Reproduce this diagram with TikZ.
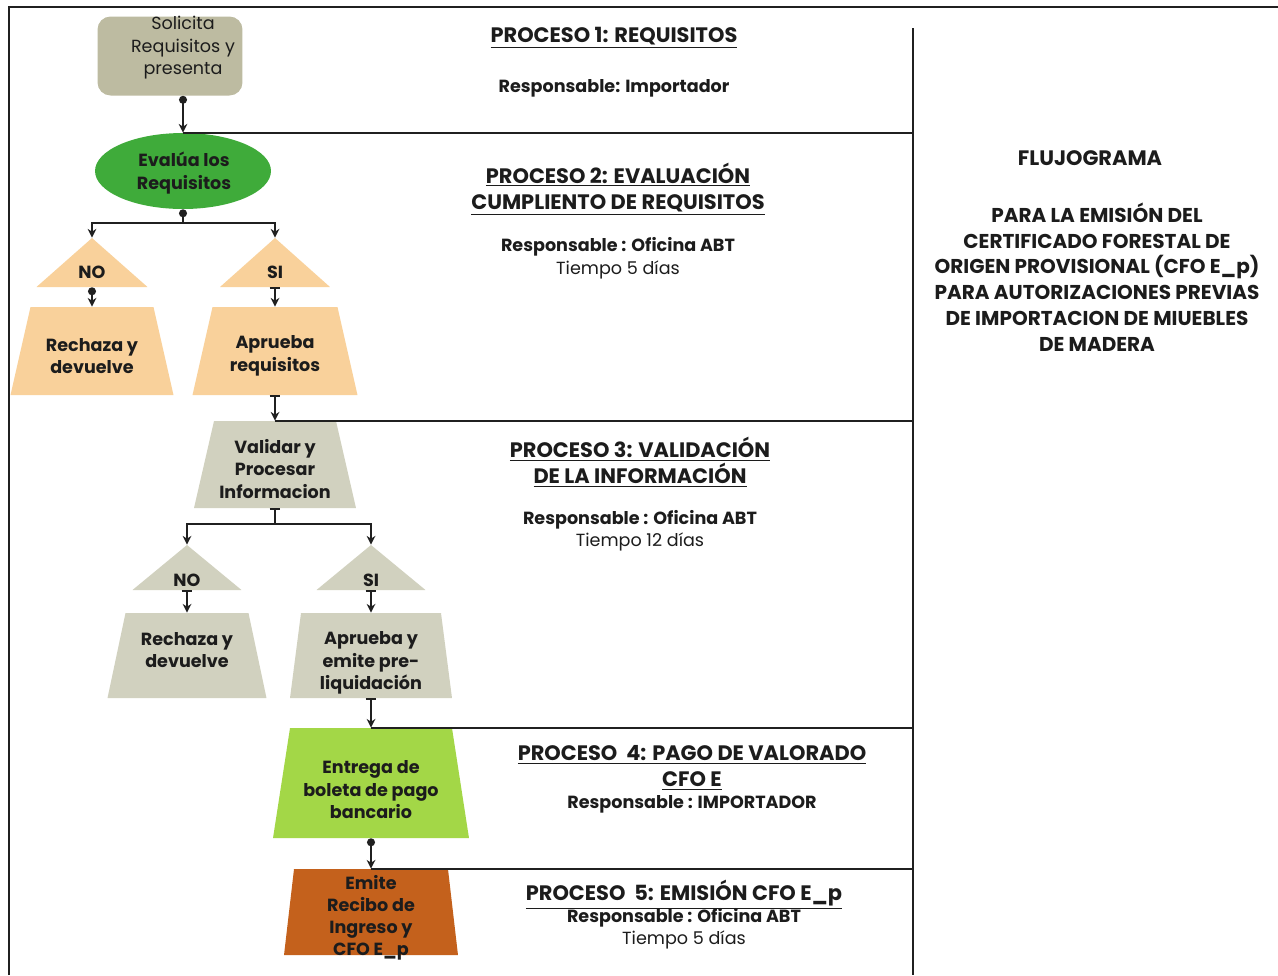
\documentclass[tikz,border=0pt]{standalone}
\usepackage{fontspec}
\setmainfont{Poppins}
\usetikzlibrary{arrows.meta,shapes.geometric}
\definecolor{cSol}{HTML}{BDBBA1}
\definecolor{cEval}{HTML}{3FAB3A}
\definecolor{cPeach}{HTML}{F9D19B}
\definecolor{cGray}{HTML}{D1D1BF}
\definecolor{cLime}{HTML}{A3D747}
\definecolor{cRust}{HTML}{C4611C}
\definecolor{txt}{HTML}{1C1C1C}
\definecolor{lin}{HTML}{202020}
\begin{document}
\begin{tikzpicture}[x=0.02cm,y=-0.02cm,
  every node/.style={font=\fontsize{10}{12.8}\selectfont, text=txt, align=center, inner sep=0pt},
  bt/.style={font=\fontsize{10}{12.8}\selectfont\bfseries},
  ht/.style={font=\fontsize{11.9}{14.8}\selectfont\bfseries},
  conn/.style={line width=1.2pt, draw=lin},
  dotar/.style={conn, {Circle[length=4.5pt]}-{Stealth[length=5pt,width=5pt]}},
  barar/.style={conn, {Bar[width=6pt]}-{Stealth[length=5pt,width=5pt]}},
  dotst/.style={conn, {Circle[length=4.5pt]}-},
  barst/.style={conn, {Bar[width=6pt]}-},
  toar/.style={conn, -{Stealth[length=5pt,width=5pt]}},
  sep/.style={line width=1.1pt, draw=lin},
  trapbox/.style n args={4}{minimum width=#1, minimum height=#2, path picture={\fill[#4] ([xshift=#3]path picture bounding box.north west) -- ([xshift=-#3]path picture bounding box.north east) -- (path picture bounding box.south east) -- (path picture bounding box.south west) -- cycle;}},
  tribox/.style n args={3}{minimum width=#1, minimum height=#2, path picture={\fill[#3] (path picture bounding box.north) -- (path picture bounding box.south east) -- (path picture bounding box.south west) -- cycle;}}
]
\useasboundingbox (0,0) rectangle (1278,975);
\fill[white] (0,0) rectangle (1278,975);

% shapes
\node[rounded corners=0.26cm, fill=cSol, minimum width=2.9cm, minimum height=1.58cm] (s1) at (170,56) {};
\node (s1t) at (183,48) {Solicita\\Requisitos y\\presenta};
\node[ellipse, fill=cEval, minimum width=3.52cm, minimum height=1.52cm] (ev) at (183,171) {};
\node[bt] (evt) at (184,173) {Evalúa los\\Requisitos};

\node[tribox={2.22cm}{0.98cm}{cPeach}] (no1) at (92,262.5) {};
\node[bt] (no1t) at (92,272) {NO};
\node[tribox={2.2cm}{0.98cm}{cPeach}] (si1) at (275,262.5) {};
\node[bt] (si1t) at (275,272) {SI};

\node[trapbox={3.26cm}{1.76cm}{0.4cm}{cPeach}] (r1) at (92,351) {};
\node[bt] (r1t) at (92,356) {Rechaza y\\devuelve};
\node[trapbox={3.3cm}{1.76cm}{0.4cm}{cPeach}] (a1) at (275,351) {};
\node[bt] (a1t) at (275,356) {Aprueba\\requisitos};

\node[trapbox={3.24cm}{1.74cm}{0.4cm}{cGray}] (v1) at (275,464.5) {};
\node[bt] (v1t) at (275,469) {Validar y\\Procesar\\Informacion};

\node[tribox={2.18cm}{0.9cm}{cGray}] (no2) at (187,567.5) {};
\node[bt] (no2t) at (187,580) {NO};
\node[tribox={2.18cm}{0.9cm}{cGray}] (si2) at (371,567.5) {};
\node[bt] (si2t) at (371,580) {SI};

\node[trapbox={3.18cm}{1.7cm}{0.36cm}{cGray}] (r2) at (187,655.5) {};
\node[bt] (r2t) at (187,650) {Rechaza y\\devuelve};
\node[trapbox={3.24cm}{1.7cm}{0.22cm}{cGray}] (a2) at (371,655.5) {};
\node[bt] (a2t) at (371,663) {Aprueba y\\emite pre-\\liquidación};

\node[trapbox={3.92cm}{2.2cm}{0.34cm}{cLime}] (p4) at (371,783) {};
\node[bt] (p4t) at (371,790) {Entrega de\\boleta de pago\\bancario};
\node[trapbox={3.48cm}{1.72cm}{0.2cm}{cRust}] (p5) at (371,912) {};
\node[bt, font=\fontsize{10}{12.5}\selectfont\bfseries] (p5t) at (371,918) {Emite\\Recibo de\\Ingreso y\\CFO E\_p};

% frame and separators
\coordinate (dv) at (913,28);
\draw[sep] (9,975) -- (9,7) -- (1278,7);
\draw[sep] (dv) -- (913,975);
\draw[sep] (ev.north) -- (ev.north -| dv);
\draw[sep] (v1.north) -- (v1.north -| dv);
\draw[sep] (p4.north) -- (p4.north -| dv);
\draw[sep] (p5.north) -- (p5.north -| dv);

% connectors
\draw[dotar] (s1.south -| ev.north) -- (ev.north);
\draw[dotst] (ev.south) -- ++(0,14) coordinate (b1);
\draw[toar] (b1) -| (no1.north);
\draw[toar] (b1) -| (si1.north);
\draw[dotar] (no1.south) -- (r1.north);
\draw[barar] (si1.south) -- (a1.north);
\draw[barar] (a1.south) -- (v1.north);
\draw[barst] (v1.south) -- ++(0,16) coordinate (b2);
\draw[toar] (b2) -| (no2.north);
\draw[toar] (b2) -| (si2.north);
\draw[barar] (no2.south) -- (r2.north);
\draw[barar] (si2.south) -- (a2.north);
\draw[barar] (a2.south) -- (p4.north);
\draw[dotar] (p4.south) -- (p5.north);

% process texts
\node[ht] (h1) at (614,38) {\underline{PROCESO 1: REQUISITOS}};
\node[bt] (h1r) at (614,88) {Responsable: Importador};
\node[ht] (h2) at (618,189) {\underline{PROCESO 2: EVALUACIÓN}\\\underline{CUMPLIENTO DE REQUISITOS}};
\node[bt] (h2r) at (618,247) {Responsable : Oficina ABT};
\node (h2t) at (618,270) {Tiempo 5 días};
\node[ht] (h3) at (640,462) {\underline{PROCESO 3: VALIDACIÓN}\\\underline{DE LA INFORMACIÓN}};
\node[bt] (h3r) at (640,520) {Responsable : Oficina ABT};
\node (h3t) at (640,542) {Tiempo 12 días};
\node[ht] (h4) at (692,768) {\underline{PROCESO\ \ 4: PAGO DE VALORADO}\\\underline{CFO E}};
\node[bt] (h4r) at (692,804) {Responsable : IMPORTADOR};
\node[ht] (h5) at (684,895) {\underline{PROCESO\ \ 5: EMISIÓN CFO E\_p}};
\node[bt] (h5r) at (684,918) {Responsable : Oficina ABT};
\node (h5t) at (684,940) {Tiempo 5 días};

% title
\node[ht] (tt1) at (1090,158) {FLUJOGRAMA};
\node[bt, font=\fontsize{11.4}{14.7}\selectfont\bfseries] (tt2) at (1097,277) {PARA LA EMISIÓN DEL\\CERTIFICADO FORESTAL DE\\ORIGEN PROVISIONAL (CFO E\_p)\\PARA AUTORIZACIONES PREVIAS\\DE IMPORTACION DE MIUEBLES\\DE MADERA};
\end{tikzpicture}
\end{document}
